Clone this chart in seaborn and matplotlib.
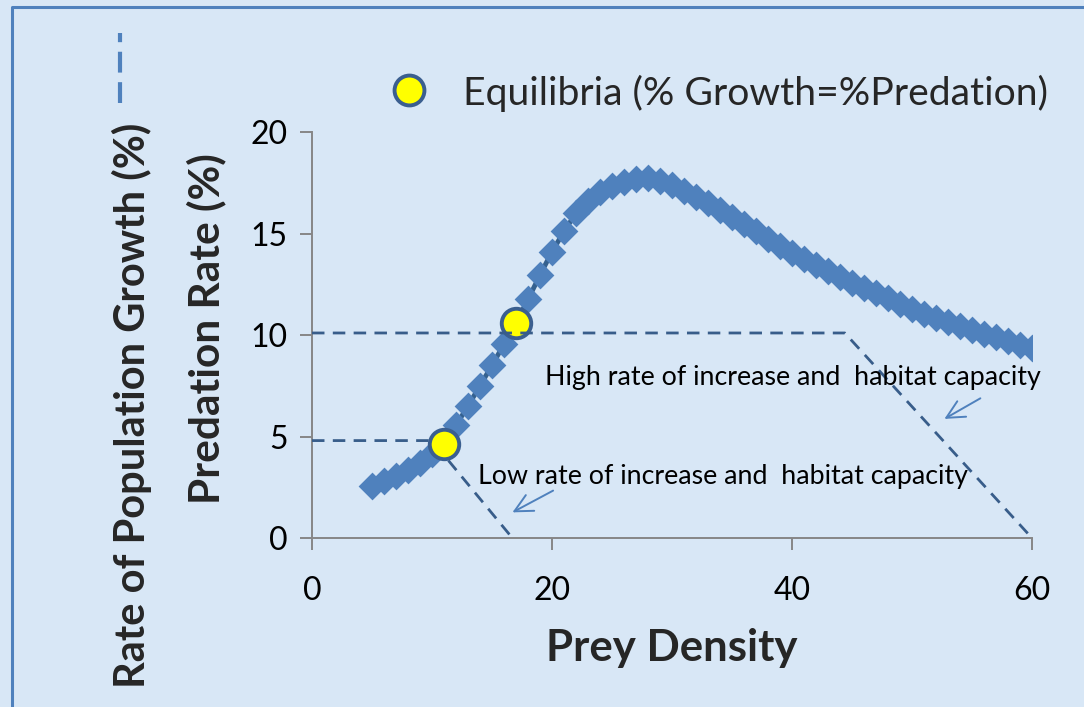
import matplotlib
matplotlib.use("Agg")
import matplotlib.pyplot as plt
from matplotlib.lines import Line2D
import seaborn as sns
import pandas as pd

# Predation rate (%) along prey density
prey_density = list(range(5, 61))
predation_rate = [
    2.55, 2.8, 3.05, 3.35, 3.7, 4.15, 4.65, 5.55, 6.5, 7.5,
    8.5, 9.55, 10.6, 11.75, 12.95, 14.1, 15.1, 16.0, 16.6, 17.05,
    17.35, 17.55, 17.7, 17.75, 17.6, 17.4, 17.1, 16.8, 16.5, 16.15,
    15.8, 15.45, 15.1, 14.75, 14.4, 14.05, 13.75, 13.45, 13.15, 12.85,
    12.55, 12.3, 12.05, 11.8, 11.55, 11.3, 11.05, 10.85, 10.65, 10.45,
    10.25, 10.05, 9.9, 9.7, 9.5, 9.35,
]

# Population growth (%) curves: low and high rate of increase
low_growth_x = [0, 10, 16.7]
low_growth_y = [4.8, 4.8, 0]
high_growth_x = [0, 44.4, 60]
high_growth_y = [10.1, 10.1, 0]

# Equilibria where growth equals predation
equilibria_x = [11, 17]
equilibria_y = [4.65, 10.6]

x_ticks = [0, 20, 40, 60]
y_ticks = [0, 5, 10, 15, 20]

legend_label = "Equilibria (% Growth=%Predation)"
x_label = "Prey Density"
y_label_outer = "Rate of Population Growth (%)"
y_label_inner = "Predation Rate (%)"
low_note = "Low rate of increase and  habitat capacity"
high_note = "High rate of increase and  habitat capacity"

BG = "#d8e7f6"
CURVE = "#4f81bd"
CURVE_DARK = "#35618f"
DASH = "#385d8a"
AXIS_GREY = "#868686"
ARROW = "#4f81bd"

sns.set_theme(style="ticks")
plt.rcParams["font.family"] = ["Lato", "DejaVu Sans"]

fig = plt.figure(figsize=(10.84, 7.07), dpi=100, facecolor=BG)
ax = fig.add_axes([0.2878, 0.2390, 0.6642, 0.5743])
ax.set_facecolor("none")

curve = pd.DataFrame({"prey": prey_density, "rate": predation_rate})
sns.lineplot(data=curve, x="prey", y="rate", ax=ax, color=CURVE_DARK,
             linewidth=3.5, zorder=2)
sns.scatterplot(data=curve, x="prey", y="rate", ax=ax, marker="D", s=200,
                color=CURVE, edgecolor=CURVE, linewidth=0, zorder=3)

low = pd.DataFrame({"x": low_growth_x, "y": low_growth_y})
high = pd.DataFrame({"x": high_growth_x, "y": high_growth_y})
sns.lineplot(data=low, x="x", y="y", ax=ax, sort=False, color=DASH,
             linewidth=2.0, dashes=False, zorder=4)
sns.lineplot(data=high, x="x", y="y", ax=ax, sort=False, color=DASH,
             linewidth=2.0, dashes=False, zorder=6)
for ln in ax.lines[-2:]:
    ln.set_linestyle((0, (4.5, 3)))

eq = pd.DataFrame({"x": equilibria_x, "y": equilibria_y})
sns.scatterplot(data=eq, x="x", y="y", ax=ax, marker="o", s=450,
                color="#ffff00", edgecolor="#3b5f8f", linewidth=2.8, zorder=5)

ax.set_xlim(0, 60)
ax.set_ylim(0, 20)
ax.set_xticks(x_ticks)
ax.set_yticks(y_ticks)
ax.set_xlabel("")
ax.set_ylabel("")
ax.tick_params(axis="both", colors=AXIS_GREY, labelcolor="black",
               labelsize=23, length=8.5, width=1.4, direction="out")
ax.tick_params(axis="y", pad=9)
ax.tick_params(axis="x", pad=19)
for side in ("top", "right"):
    ax.spines[side].set_visible(False)
for side in ("left", "bottom"):
    ax.spines[side].set_color(AXIS_GREY)
    ax.spines[side].set_linewidth(1.4)
ax.spines["left"].set_bounds(0, 20)

# notes and arrows
ax.text(13.8, 3.05, low_note, fontsize=19.3, va="center", ha="left",
        color="black", zorder=7)
ax.text(19.4, 7.9, high_note, fontsize=19.3, va="center", ha="left",
        color="black", zorder=7)
arrow_style = dict(arrowstyle="->", color=ARROW, lw=1.4, mutation_scale=32)
ax.annotate("", xy=(16.5, 1.2), xytext=(20.3, 2.4), arrowprops=arrow_style,
            zorder=7)
ax.annotate("", xy=(52.5, 5.8), xytext=(55.9, 6.95), arrowprops=arrow_style,
            zorder=7)

# axis titles
fig.text(0.620, 0.083, x_label, fontsize=31.5, fontweight="bold",
         ha="center", va="center")
fig.text(0.122, 0.427, y_label_outer, fontsize=30, fontweight="bold",
         rotation=90, ha="center", va="center")
fig.text(0.190, 0.535, y_label_inner, fontsize=30.5, fontweight="bold",
         rotation=90, ha="center", va="center")

# legend entries: equilibrium marker and dashed growth line
fig.add_artist(Line2D([0.3773], [0.8727], marker="o", markersize=21.5,
                      markerfacecolor="#ffff00", markeredgecolor="#3b5f8f",
                      markeredgewidth=2.8, linestyle="none",
                      transform=fig.transFigure))
fig.text(0.427, 0.868, legend_label, fontsize=28.2, ha="left", va="center")
fig.add_artist(Line2D([0.1107, 0.1107], [0.854, 0.953], color=CURVE,
                      linewidth=3.0, linestyle=(0, (5, 2.3)),
                      transform=fig.transFigure))

# frame around the chart area
fig.add_artist(Line2D([0.0111, 0.0111, 1.0], [0.0, 0.990, 0.990],
                      color=CURVE, linewidth=2.2, transform=fig.transFigure))

fig.savefig("out.png", dpi=100, facecolor=BG)
